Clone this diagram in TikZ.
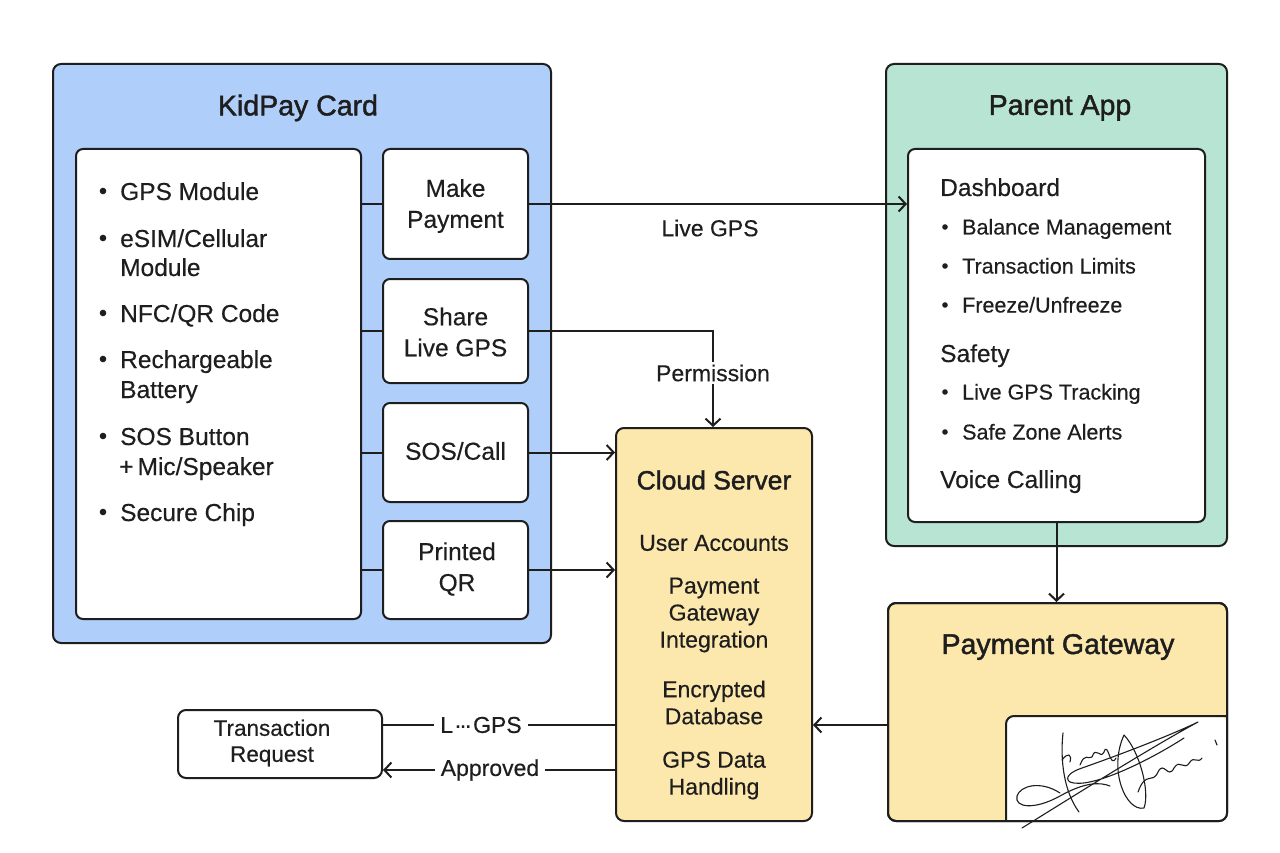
\documentclass[tikz,border=0pt]{standalone}
\usepackage{fontspec}
\setmainfont{Liberation Sans}[FakeBold=0.35]
\newfontfamily\ttlfont[FakeBold=1.5]{Liberation Sans}
\usetikzlibrary{arrows.meta}
\definecolor{kblue}{RGB}{175,206,250}
\definecolor{kgreen}{RGB}{183,228,211}
\definecolor{kyellow}{RGB}{252,232,172}
\definecolor{kline}{RGB}{30,30,30}
\tikzset{
  box/.style={draw=kline, line width=2pt, rounded corners=8pt, inner sep=0pt},
  whitebox/.style={draw=kline, fill=white, line width=2pt, rounded corners=7pt, inner sep=0pt},
  ttl/.style={font=\ttlfont\fontsize{28.5}{32}\selectfont, text=kline, inner sep=0pt},
  t25/.style={font=\fontsize{24.5}{30}\selectfont, text=kline, inner sep=0pt},
  t23/.style={font=\fontsize{23}{27}\selectfont, text=kline, inner sep=0pt},
  t22/.style={font=\fontsize{21.5}{26}\selectfont, text=kline, inner sep=0pt},
  conn/.style={draw=kline, line width=2pt},
  arr/.style={conn, -{Straight Barb[length=7pt,width=15pt,line width=2pt]}},
  lbl/.style={fill=white, inner xsep=6pt, inner ysep=2pt},
}
\begin{document}
\begin{tikzpicture}[x=1pt,y=-1pt]
\useasboundingbox[fill=white] (0,0) rectangle (1280,853);
% ---------- KidPay Card ----------
\node[box, fill=kblue, minimum width=498pt, minimum height=579pt] (kid) at (302,353.5) {};
\node[ttl] (kidt) at (298,108) {KidPay Card};
\node[whitebox, minimum width=285pt, minimum height=470pt] (list) at (218.5,384) {};
\node[whitebox, minimum width=145pt, minimum height=110pt] (b1) at (455.5,204) {};
\node[t25, align=center] (b1t) at (455.5,206) {Make\\[1pt]Payment};
\node[whitebox, minimum width=145pt, minimum height=104pt] (b2) at (455.5,331) {};
\node[t25, align=center] (b2t) at (455.5,332) {Share\\[1pt]Live GPS};
\node[whitebox, minimum width=145pt, minimum height=99pt] (b3) at (455.5,452.5) {};
\node[t25] (b3t) at (455.5,451) {SOS/Call};
\node[whitebox, minimum width=145pt, minimum height=98pt] (b4) at (455.5,570) {};
\node[t25, align=center] (b4t) at (457,569) {Printed\\[1pt]QR};
% list items
\node[t25, anchor=base west] (l1) at (120,200) {GPS Module};
\node[t25, anchor=base west] (l2a) at (120,247) {eSIM/Cellular};
\node[t25, anchor=base west] (l2b) at (120,276) {Module};
\node[t25, anchor=base west] (l3) at (120,322) {NFC/QR Code};
\node[t25, anchor=base west] (l4a) at (120,368) {Rechargeable};
\node[t25, anchor=base west] (l4b) at (120,398) {Battery};
\node[t25, anchor=base west] (l5a) at (120,445) {SOS Button};
\node[t25, anchor=base west] (l5b) at (119,475) {+\,Mic/Speaker};
\node[t25, anchor=base west] (l6) at (120,521) {Secure Chip};
\foreach \yy in {191,238,313,359,436,512}
  \fill[kline] (103,\yy) circle (3.3pt);
% card connectors
\foreach \b in {b1,b2,b3,b4}
  \draw[conn] (list.east |- \b.west) -- (\b.west);
% ---------- Parent App ----------
\node[box, fill=kgreen, minimum width=341pt, minimum height=482pt] (pa) at (1056.5,305) {};
\node[ttl] (pat) at (1060,108) {Parent App};
\node[whitebox, minimum width=297pt, minimum height=373pt] (pin) at (1056.5,335.5) {};
\node[t25, anchor=base west] (p1) at (940,196) {Dashboard};
\node[t22, anchor=base west] (p2) at (962,234.5) {Balance Management};
\node[t22, anchor=base west] (p3) at (962,273.5) {Transaction Limits};
\node[t22, anchor=base west] (p4) at (962,312.5) {Freeze/Unfreeze};
\node[t25, anchor=base west] (p5) at (940,362) {Safety};
\node[t22, anchor=base west] (p6) at (962,399.5) {Live GPS Tracking};
\node[t22, anchor=base west] (p7) at (962,439.5) {Safe Zone Alerts};
\node[t25, anchor=base west] (p8) at (940,488) {Voice Calling};
\foreach \yy in {227,266,305,392,432}
  \fill[kline] (945,\yy) circle (2.8pt);
% ---------- Cloud Server ----------
\node[box, fill=kyellow, minimum width=196pt, minimum height=393pt] (cs) at (714,624.5) {};
\node[ttl, font=\ttlfont\fontsize{26.5}{30}\selectfont] (cst) at (714,480) {Cloud Server};
\node[t23, align=center] (c1) at (714,543) {User Accounts};
\node[t23, align=center] (c2) at (714,615) {Payment\\Gateway\\Integration};
\node[t23, align=center] (c3) at (714,702.5) {Encrypted\\Database};
\node[t23, align=center] (c4) at (714,775.5) {GPS Data\\Handling};
% ---------- Payment Gateway ----------
\node[box, fill=kyellow, minimum width=339pt, minimum height=218pt] (pg) at (1057.5,712) {};
\fill[white] (1006,821) [rounded corners=8pt] -- (1006,716) -- (1227,716) [sharp corners] -- (1227,813) arc[start angle=0,end angle=90,radius=8] -- cycle;
\draw[conn] (1006,821) [rounded corners=8pt] -- (1006,716) -- (1227,716);
\node[box, minimum width=339pt, minimum height=218pt] (pgo) at (1057.5,712) {};
\node[ttl] (pgt) at (1058,647) {Payment Gateway};
% signature
\begin{scope}[draw=kline, line width=1.1pt, line cap=round, line join=round]
\draw (1022,828) .. controls (1080,792) and (1150,748) .. (1198,722)
      .. controls (1165,738) and (1105,760) .. (1082,768)
      .. controls (1070,772) and (1064,778) .. (1070,782)
      .. controls (1090,790) and (1150,760) .. (1184,738);
\draw (1060,793) .. controls (1040,780) and (1020,786) .. (1017,796)
      .. controls (1014,808) and (1035,810) .. (1060,796)
      .. controls (1085,782) and (1100,782) .. (1110,786);
\draw (1063,733) .. controls (1060,760) and (1064,792) .. (1079,812);
\draw (1062,760) .. controls (1068,752) and (1072,754) .. (1070,762);
\draw (1080,765) .. controls (1085,752) and (1088,760) .. (1092,757)
      .. controls (1096,745) and (1100,760) .. (1104,752)
      .. controls (1108,740) and (1110,770) .. (1116,758);
\draw (1124,735) .. controls (1108,770) and (1126,812) .. (1144,808)
      .. controls (1150,792) and (1140,752) .. (1124,735);
\draw (1138,792) .. controls (1146,770) and (1152,785) .. (1158,772)
      .. controls (1164,760) and (1168,780) .. (1174,768)
      .. controls (1180,758) and (1184,772) .. (1190,762)
      .. controls (1194,756) and (1198,764) .. (1202,758);
\draw (1215,740) -- (1217,745);
\end{scope}
% ---------- Transaction Request ----------
\node[box, minimum width=204pt, minimum height=68pt] (tr) at (280,744) {};
\node[t22, align=center, font=\fontsize{22.5}{26}\selectfont] (trt) at (272,743) {Transaction\\Request};
% ---------- connectors ----------
\coordinate (yA) at (0,725);
\coordinate (yB) at (0,770);
\draw[arr] (b1.east) -- (pin.west |- b1.east);
\node[t23] (lgps) at (710,228) {Live GPS};
\node[t23, lbl] (perm) at (713,373) {Permission};
\draw[conn] (b2.east) -| (perm.north);
\draw[arr] (perm.south) -- (perm.south |- cs.north);
\draw[arr] (b3.east) -- (cs.west |- b3.east);
\draw[arr] (b4.east) -- (cs.west |- b4.east);
\draw[arr] (pin.south) -- (pin.south |- pg.north);
\draw[arr] (pg.west |- yA) -- (cs.east |- yA);
\draw[conn] (cs.west |- yA) -- (tr.east |- yA);
\node[t23, lbl] (lg) at (481,725) {L\kern1pt·\kern-2.5pt·\kern-2.5pt·\kern1ptGPS};
\draw[arr] (cs.west |- yB) -- (tr.east |- yB);
\node[t23, lbl] (appr) at (490,770) {Approved};
\end{tikzpicture}
\end{document}
